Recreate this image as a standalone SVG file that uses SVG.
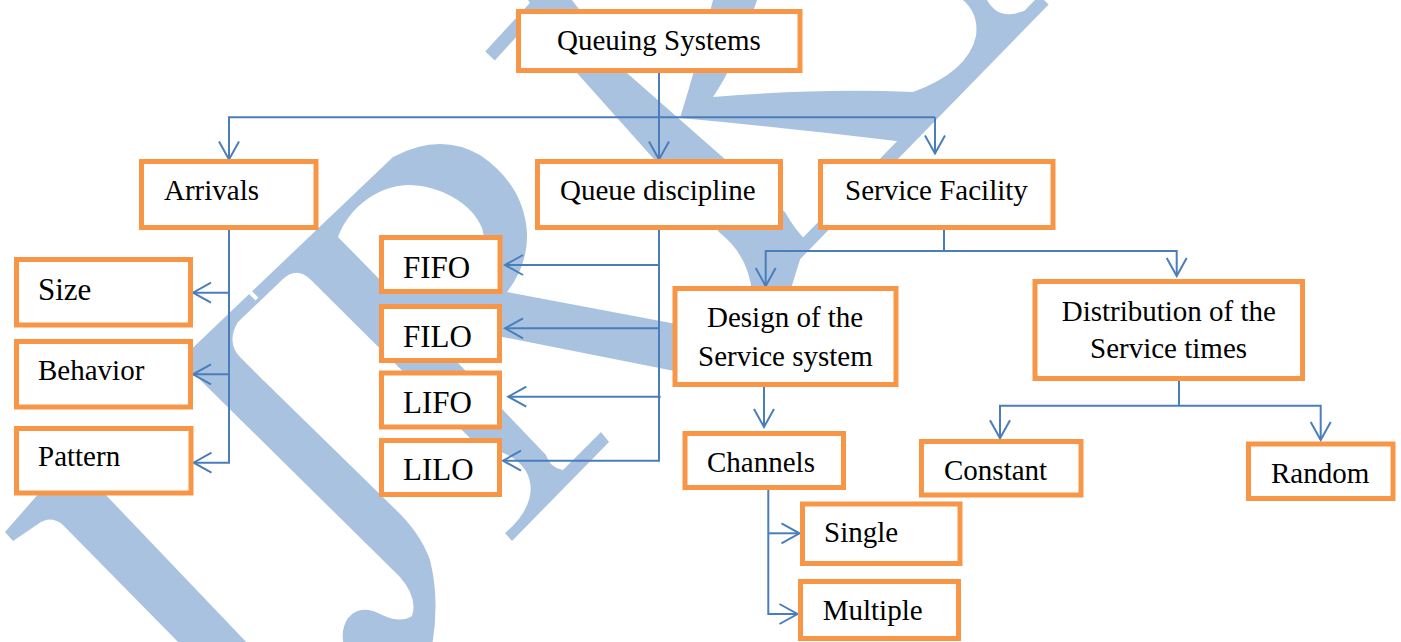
<svg xmlns="http://www.w3.org/2000/svg" width="1401" height="642" viewBox="0 0 1401 642">
<style>
.box rect{fill:#fff;stroke:#f79646;stroke-width:5}
text{font-family:"Liberation Serif","Times New Roman",serif;font-size:29px;fill:#000}
.big{font-size:31px}
.c{fill:none;stroke:#4a7ebb;stroke-width:2}
.wm{fill:#a9c2e0}
</style>
<defs>
<marker id="ah" viewBox="-20 -12 22 24" refX="0" refY="0" markerWidth="22" markerHeight="24" markerUnits="userSpaceOnUse" orient="auto">
<path d="M-18,-10 L0,0 L-18,10" fill="none" stroke="#4a7ebb" stroke-width="2"/>
</marker>
</defs>
<rect width="1401" height="642" fill="#fff"/>
<g id="watermark">
<path class="wm" d="M40,492 L103,492 L250,646 L182,646 L62,524 Q50,515 38,524 L13,541 L5,532 Z"/>
<path class="wm" fill-rule="evenodd" d="M180,360 L400,577 Q418,598 412,616 Q400,624 380,614 Q360,604 348,618 Q340,630 344,646 L432,646 Q440,600 430,560 Q420,532 393,507 L263,380 L240,357 Q226,342 238,322 L283,279 Q297,266 311,280 L478,446 C540,455 545,500 505,533 L512,541 L609,442 L601,432 L563,470 Q550,468 546,455 L417,320 L740,384 L740,336 L507,292 Q528,265 527,233 Q524,185 480,155 Q440,132 393,157 Z M338,237 C350,205 380,186 407,185 C440,185 472,203 482,228 Q490,258 486,290 L390,290 Z"/>
<path class="wm" d="M528,0 L572,0 L627,73 L785,212 Q795,230 806,240 L790,292 L752,292 Q748,255 720,233 L577,73 Z"/>
<path class="wm" d="M713,0 L757,0 Q737,62 713,97 Q820,88 913,92 Q968,72 976,36 Q979,14 963,0 L987,0 Q996,16 1012,14 Q1028,12 1044,0 L905,142 Q790,128 680,118 Q698,60 713,0 Z"/>
<path d="M758,293 L1044,0" stroke="#a9c2e0" stroke-width="13" fill="none"/>
<path d="M490,56 L545,-4" stroke="#a9c2e0" stroke-width="13" fill="none"/>
<path d="M247,289 L257,299" stroke="#fff" stroke-width="4" fill="none"/>
</g>
<g id="connectors">
<path class="c" d="M659,73 V159.5" marker-end="url(#ah)"/>
<path class="c" d="M935,117.3 H229 V159.5" marker-end="url(#ah)"/>
<path class="c" d="M935,117.3 V153.5" marker-end="url(#ah)"/>
<path class="c" d="M229,229 V462.7 H193.5" marker-end="url(#ah)"/>
<path class="c" d="M229,292.7 H193" marker-end="url(#ah)"/>
<path class="c" d="M229,374.3 H193" marker-end="url(#ah)"/>
<path class="c" d="M659,229 V460.7 H503" marker-end="url(#ah)"/>
<path class="c" d="M659,265 H505" marker-end="url(#ah)"/>
<path class="c" d="M659,328.3 H505" marker-end="url(#ah)"/>
<path class="c" d="M660.7,396.7 H508.3" marker-end="url(#ah)"/>
<path class="c" d="M944,229 V251 H765.7 V286" marker-end="url(#ah)"/>
<path class="c" d="M944,251 H1176.7 V276" marker-end="url(#ah)"/>
<path class="c" d="M764,386.7 V427" marker-end="url(#ah)"/>
<path class="c" d="M768.3,490 V614 H797.5" marker-end="url(#ah)"/>
<path class="c" d="M768.3,533.3 H799.5" marker-end="url(#ah)"/>
<path class="c" d="M1179,380 V405.7" stroke-width="3"/>
<path class="c" d="M1179,405.7 H1000 V438.3" marker-end="url(#ah)"/>
<path class="c" d="M1179,405.7 H1320.7 V440" marker-end="url(#ah)"/>
</g>
<g id="queuing-systems" class="box"><rect x="518.5" y="11.5" width="281.5" height="59"/><text x="557" y="50">Queuing Systems</text></g>
<g id="arrivals" class="box"><rect x="141.5" y="161.5" width="174.5" height="66"/><text x="164" y="200">Arrivals</text></g>
<g id="queue-discipline" class="box"><rect x="537.5" y="161.5" width="243" height="66"/><text x="560" y="200">Queue discipline</text></g>
<g id="service-facility" class="box"><rect x="820.5" y="161.5" width="232.5" height="66"/><text x="845" y="200">Service Facility</text></g>
<g id="size" class="box"><rect x="16.5" y="259.5" width="174" height="65.5"/><text class="big" x="38" y="300">Size</text></g>
<g id="behavior" class="box"><rect x="16.5" y="341.5" width="174" height="65.5"/><text x="38" y="380">Behavior</text></g>
<g id="pattern" class="box"><rect x="16.5" y="428.5" width="174.5" height="64.5"/><text x="38" y="466">Pattern</text></g>
<g id="fifo" class="box"><rect x="381.5" y="237.5" width="118.5" height="54"/><text class="big" x="403" y="277.7">FIFO</text></g>
<g id="filo" class="box"><rect x="381.5" y="306.5" width="118" height="54"/><text class="big" x="403" y="346.7">FILO</text></g>
<g id="lifo" class="box"><rect x="381.5" y="373" width="118" height="54"/><text class="big" x="403" y="413.3">LIFO</text></g>
<g id="lilo" class="box"><rect x="381.5" y="440.5" width="118" height="54"/><text class="big" x="403" y="480">LILO</text></g>
<g id="design" class="box"><rect x="675" y="288.5" width="221" height="96"/><text x="707" y="326.7">Design of the</text><text x="698" y="365.7">Service system</text></g>
<g id="distribution" class="box"><rect x="1035" y="281.5" width="267.5" height="97"/><text x="1061.7" y="320.7">Distribution of the</text><text x="1090" y="358.3">Service times</text></g>
<g id="channels" class="box"><rect x="685" y="433.5" width="158.5" height="54"/><text x="707" y="471.7">Channels</text></g>
<g id="constant" class="box"><rect x="921.5" y="441.5" width="159.5" height="53.5"/><text x="944" y="480">Constant</text></g>
<g id="random" class="box"><rect x="1248.5" y="444" width="144.5" height="54.5"/><text x="1271" y="483.3">Random</text></g>
<g id="single" class="box"><rect x="802.5" y="504" width="157.5" height="59.5"/><text x="824" y="541.7">Single</text></g>
<g id="multiple" class="box"><rect x="800.5" y="581.5" width="158" height="57"/><text x="822.7" y="620">Multiple</text></g>
</svg>
